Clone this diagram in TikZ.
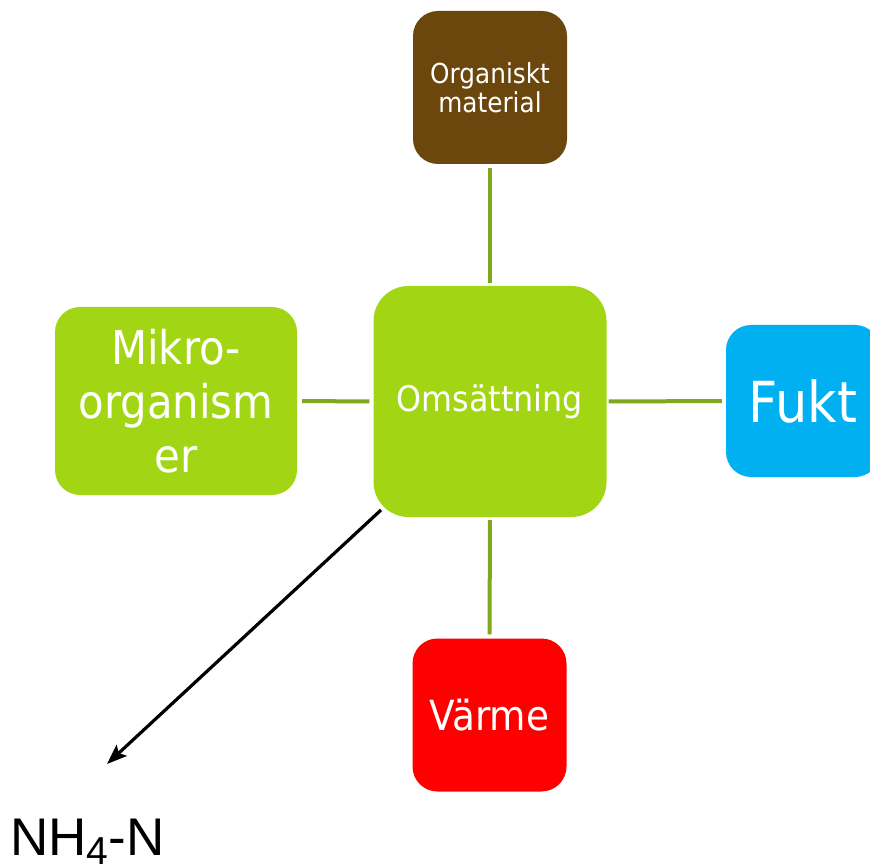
\documentclass[tikz,border=0pt]{standalone}
\usepackage{fontspec}
\setmainfont{DejaVu Sans}[FakeStretch=0.9]
\newfontfamily\arialfont{Liberation Sans}
\usetikzlibrary{arrows.meta}
\definecolor{brownbox}{RGB}{107,71,13}
\definecolor{limebox}{RGB}{162,214,20}
\definecolor{bluebox}{RGB}{0,176,240}
\definecolor{redbox}{RGB}{255,0,0}
\definecolor{linegreen}{RGB}{128,168,30}
\begin{document}
\begin{tikzpicture}[x=1pt,y=-1pt,
  box/.style={rounded corners=25pt, inner sep=0pt, text=white, align=center,
    minimum width=154pt, minimum height=153pt},
  conn/.style={draw=linegreen, line width=4pt},
  arr/.style={draw=black, line width=3.2pt, -{Stealth[length=20pt,width=15pt,inset=4pt]}}]
\useasboundingbox (0,0) rectangle (870,866);
\clip (0,0) rectangle (870,866);
\node[box, fill=brownbox, font=\fontsize{27.5}{29}\selectfont] (org) at (490,87.5) {Organiskt\\material};
\node[box, fill=limebox, minimum width=233pt, minimum height=231pt, rounded corners=35pt,
  font=\fontsize{35.3}{40}\selectfont] (oms) at (490,401.5) {Omsättning};
\node[box, fill=limebox, minimum width=242pt, minimum height=188pt,
  font=\fontsize{46.5}{54}\selectfont] (mik) at (176,401) {Mikro-\\organism\\er};
\node[box, fill=bluebox, minimum height=152pt, font=\fontsize{56.6}{60}\selectfont] (fukt) at (803,401) {Fukt};
\node[box, fill=redbox, font=\fontsize{41.5}{46}\selectfont] (varme) at (489.5,715) {Värme};
\draw[conn, shorten <=4pt, shorten >=3pt] (org.south) -- (oms.north);
\draw[conn, shorten <=4pt, shorten >=5pt] (oms.west) -- (mik.east);
\draw[conn, shorten <=2pt, shorten >=4pt] (oms.east) -- (fukt.west);
\draw[conn, shorten <=3pt, shorten >=4pt] (oms.south) -- (varme.north);
\coordinate (astart) at (381,510);
\coordinate (aend) at (107,764);
\draw[arr] (astart) -- (aend);
\node[anchor=base west, inner sep=0pt, font=\arialfont\fontsize{53}{53}\selectfont] (nh) at (10,855)
  {NH\raisebox{-9pt}{\fontsize{39}{39}\selectfont 4}-N};
\end{tikzpicture}
\end{document}
